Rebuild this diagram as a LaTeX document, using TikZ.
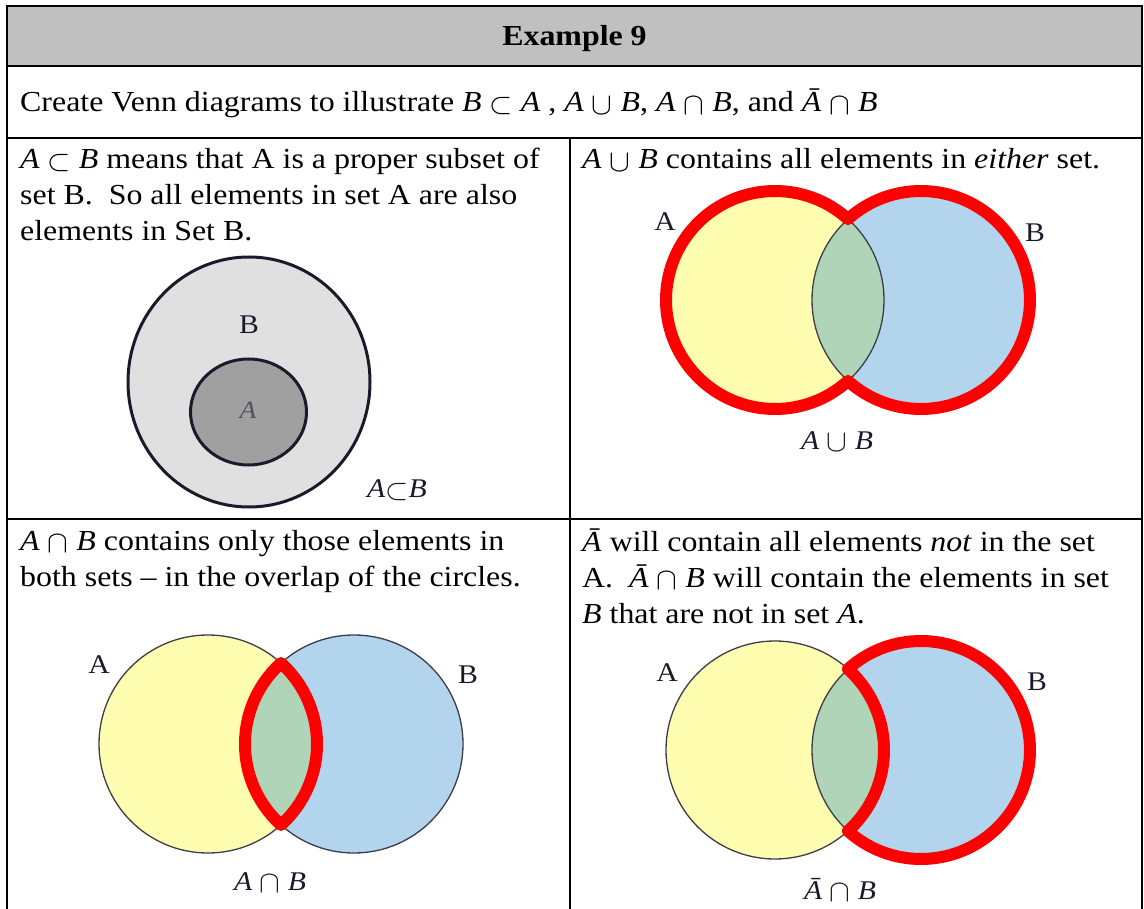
\documentclass[tikz,border=0pt]{standalone}
\usepackage{fontspec}
\setmainfont{Liberation Serif}[FakeStretch=1.1]
\usetikzlibrary{positioning}

\definecolor{HeaderGray}{HTML}{C0C0C0}
\definecolor{OuterGray}{HTML}{E0E0E0}
\definecolor{InnerGray}{HTML}{A0A0A0}
\definecolor{SetYellow}{HTML}{FFFDB0}
\definecolor{SetBlue}{HTML}{B2D4EC}
\definecolor{SetGreen}{HTML}{B0D4B8}
\definecolor{SetRed}{HTML}{FF0000}
\definecolor{Ink}{HTML}{1A1A2A}

\newcommand{\vA}{\textit{A}}
\newcommand{\vB}{\textit{B}}
\newcommand{\vAbar}{\textit{Ā}}
\newcommand{\symsub}{\raisebox{-0.06em}{\scalebox{1.2}{$\subset$}}}
\newcommand{\symcup}{\raisebox{-0.08em}{\scalebox{1.25}{$\cup$}}}
\newcommand{\symcap}{\raisebox{-0.08em}{\scalebox{1.25}{$\cap$}}}

\begin{document}
\begin{tikzpicture}[
                x=1pt, y=-1pt,
                every node/.style={inner sep=0pt},
                bodytext/.style={anchor=base west, align=left,
                    font=\fontsize{29}{36}\selectfont},
                setname/.style={font=\fontsize{27}{30}\selectfont, text=Ink},
                setop/.style={font=\fontsize{27}{30}\selectfont, text=Ink},
                rule/.style={line width=2pt},
                outline/.style={draw=Ink!85, line width=1.3pt},
                redline/.style={draw=SetRed, line width=12pt, line join=round}
            ]

                \useasboundingbox (0,0) rectangle (1144,909);
                \pgfmathsetmacro{\ang}{acos(73/109)}

                % table
                \fill[HeaderGray] (7,6) rectangle (1142,66);
                \draw[rule] (7,909) -- (7,6) -- (1142,6) -- (1142,909);
                \draw[rule] (7,66) -- (1142,66);
                \draw[rule] (7,138) -- (1142,138);
                \draw[rule] (7,519) -- (1142,519);
                \draw[rule] (569.5,138) -- (569.5,909);

                \node[anchor=base, font=\fontsize{29}{35}\selectfont\bfseries]
                    (titulo) at (574.5,46) {Example 9};

                \node[bodytext] (intro) at (20,112)
                    {Create Venn diagrams to illustrate \vB{} \symsub{} \vA{} , \vA{} \symcup{} \vB{}, \vA{} \symcap{} \vB{}, and \vAbar{} \symcap{} \vB};

                % multi-line nodes: base is the last line
                \node[bodytext] (txtsub) at (20,241)
                    {\vA{} \symsub{} \vB{} means that A is a proper subset of\\
                     set B.\ \ So all elements in set A are also\\
                     elements in Set B.};

                \node[bodytext] (txtuni) at (582,169)
                    {\vA{} \symcup{} \vB{} contains all elements in \textit{either} set.};

                \node[bodytext] (txtint) at (20,586)
                    {\vA{} \symcap{} \vB{} contains only those elements in\\
                     both sets -- in the overlap of the circles.};

                \node[bodytext] (txtdif) at (582,623)
                    {\vAbar{} will contain all elements \textit{not} in the set\\
                     A.\ \ \vAbar{} \symcap{} \vB{} will contain the elements in set\\
                     \vB{} that are not in set \vA.};

                % subset diagram
                \draw[line width=3pt, draw=Ink, fill=OuterGray]
                    (249,382) ellipse[x radius=121, y radius=125];
                \draw[line width=3pt, draw=Ink, fill=InnerGray]
                    (248.5,412) ellipse[x radius=58, y radius=53];
                \node[setname] (nomeB1) at (249,325) {B};
                \node[font=\fontsize{25}{28}\selectfont, text=Ink!75] (nomeA1) at (248,410) {\vA};
                \node[setop] (rotsub) at (397,490) {\vA\symsub\vB};

                % two-circle diagrams
                \foreach \cx/\cy in {775/300, 208/744, 775/750} {
                    \fill[SetYellow] (\cx,\cy) circle[radius=109];
                    \fill[SetBlue] (\cx+146,\cy) circle[radius=109];
                    \begin{scope}
                        \clip (\cx,\cy) circle[radius=109];
                        \fill[SetGreen] (\cx+146,\cy) circle[radius=109];
                    \end{scope}
                    \draw[outline] (\cx,\cy) circle[radius=109];
                    \draw[outline] (\cx+146,\cy) circle[radius=109];
                }

                % union
                \draw[redline] (775,300) ++(\ang:109)
                    arc[start angle=\ang, end angle=360-\ang, radius=109]
                    arc[start angle=180+\ang, end angle=540-\ang, radius=109] -- cycle;
                \node[setname] (nomeA2) at (665,222) {A};
                \node[setname] (nomeB2) at (1035,233) {B};
                \node[setop] (rotuni) at (837,442) {\vA{} \symcup{} \vB};

                % intersection
                \draw[redline] (208,744) ++(\ang:109)
                    arc[start angle=180-\ang, end angle=180+\ang, radius=109]
                    arc[start angle=-\ang, end angle=\ang, radius=109] -- cycle;
                \node[setname] (nomeA3) at (99,665) {A};
                \node[setname] (nomeB3) at (468,675) {B};
                \node[setop] (rotint) at (270,883) {\vA{} \symcap{} \vB};

                % complement of A with B
                \draw[redline] (775,750) ++(-\ang:109)
                    arc[start angle=180+\ang, end angle=540-\ang, radius=109]
                    arc[start angle=\ang, end angle=-\ang, radius=109] -- cycle;
                \node[setname] (nomeA4) at (667,673) {A};
                \node[setname] (nomeB4) at (1037,682) {B};
                \node[setop] (rotdif) at (840,890) {\vAbar{} \symcap{} \vB};

            \end{tikzpicture}
\end{document}
